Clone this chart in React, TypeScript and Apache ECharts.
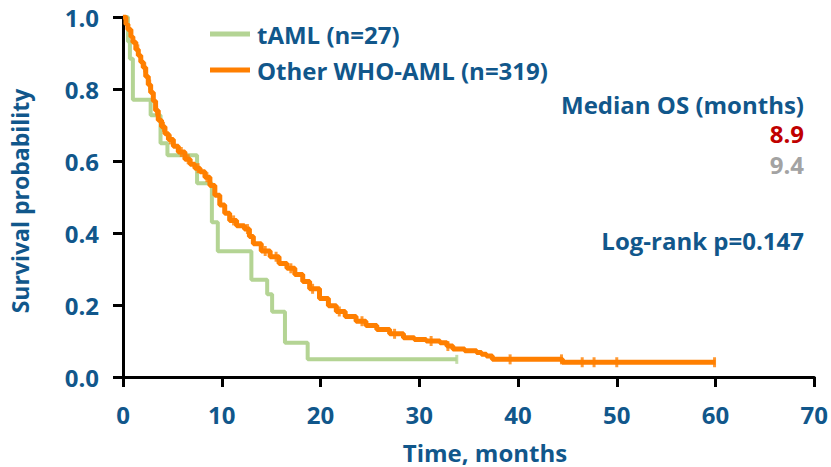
import React, { useEffect, useRef } from "react";
import * as echarts from "echarts";

// ---- Data ----
const xTickValues = [0, 10, 20, 30, 40, 50, 60, 70];
const yTickValues = [0, 0.2, 0.4, 0.6, 0.8, 1.0];

const seriesNames = ["tAML (n=27)", "Other WHO-AML (n=319)"];

// tAML Kaplan-Meier steps (time in months, survival after the drop)
const tamlTimes = [0, 0.5, 0.7, 1.0, 2.8, 3.8, 4.5, 7.5, 9.0, 9.6, 13.0, 14.6, 15.1, 16.4, 18.7, 33.8];
const tamlSurv = [1.0, 0.932, 0.884, 0.77, 0.727, 0.649, 0.616, 0.538, 0.43, 0.349, 0.27, 0.23, 0.181, 0.095, 0.049, 0.049];
const tamlCensorTimes = [33.8];

// Other WHO-AML Kaplan-Meier steps
const otherTimes = [
  0, 0.3, 0.5, 0.8, 1.0, 1.3, 1.55, 1.8, 2.05, 2.3, 2.56, 2.8, 3.07, 3.3, 3.57, 3.9, 4.25, 4.6, 5.1, 5.6,
  6.27, 6.8, 7.28, 7.8, 8.3, 8.8, 9.3, 9.8, 10.3, 10.8, 11.5, 12.3, 12.8, 13.2, 14.0, 14.9, 15.8, 16.6,
  17.4, 18.2, 18.9, 19.9, 20.8, 21.6, 22.5, 23.6, 24.6, 25.7, 27.0, 28.4, 29.5, 30.7, 32.1, 32.8, 33.4,
  34.6, 35.8, 36.3, 36.8, 37.4, 44.5, 60.0,
];
const otherSurv = [
  1.0, 0.98, 0.965, 0.945, 0.93, 0.91, 0.893, 0.875, 0.86, 0.835, 0.812, 0.79, 0.767, 0.74, 0.713, 0.695,
  0.676, 0.66, 0.641, 0.625, 0.605, 0.591, 0.58, 0.57, 0.555, 0.532, 0.505, 0.478, 0.455, 0.435, 0.42,
  0.411, 0.39, 0.37, 0.35, 0.334, 0.315, 0.302, 0.285, 0.265, 0.245, 0.218, 0.198, 0.182, 0.168, 0.155,
  0.143, 0.132, 0.12, 0.109, 0.104, 0.1, 0.095, 0.086, 0.078, 0.073, 0.068, 0.063, 0.058, 0.049, 0.041, 0.041,
];
const otherCensorTimes = [
  1.5, 2.2, 2.7, 3.4, 4.1, 4.8, 5.9, 6.6, 7.6, 8.5, 11.2, 12.6, 14.4, 15.5, 17.0, 19.2, 21.9, 24.2,
  27.5, 31.2, 32.9, 39.2, 44.4, 46.5, 47.7, 50.0, 59.9,
];

const annotationTitle = "Median OS (months)";
const medianValues = ["8.9", "9.4"];
const pValueText = "Log-rank p=0.147";
const xAxisTitle = "Time, months";
const yAxisTitle = "Survival probability";

// ---- Styling ----
const BLUE = "#11578b";
const GREEN = "#b4d494";
const ORANGE = "#ff7f00";
const FONT = "'Open Sans', Lato, sans-serif";

function survAt(times: number[], surv: number[], t: number): number {
  let v = surv[0];
  for (let i = 0; i < times.length; i++) {
    if (times[i] <= t) v = surv[i];
  }
  return v;
}

export default function App() {
  const ref = useRef<HTMLDivElement>(null);

  useEffect(() => {
    if (!ref.current) return;
    const chart = echarts.init(ref.current, undefined, { renderer: "svg" });

    const tamlData = tamlTimes.map((t, i) => [t, tamlSurv[i]]);
    const otherData = otherTimes.map((t, i) => [t, otherSurv[i]]);
    const tamlCensor = tamlCensorTimes.map((t) => [t, survAt(tamlTimes, tamlSurv, t)]);
    const otherCensor = otherCensorTimes.map((t) => [t, survAt(otherTimes, otherSurv, t)]);

    const labelStyle = {
      color: BLUE,
      fontFamily: FONT,
      fontWeight: "bold" as const,
      fontSize: 24,
      lineHeight: 24,
    };

    const txt = (text: string, x: number, y: number, fill: string, align: string, size = 24, rotation = 0) => ({
      type: "text",
      x,
      y,
      rotation,
      style: {
        text,
        fill,
        fontFamily: FONT,
        fontWeight: "bold",
        fontSize: size,
        lineHeight: size,
        align,
        verticalAlign: "middle",
      },
    });

    chart.setOption({
      animation: false,
      backgroundColor: "#ffffff",
      grid: { left: 123, right: 16, top: 7, bottom: 90, containLabel: false },
      legend: {
        orient: "vertical",
        left: 205,
        top: 17,
        itemWidth: 40,
        itemHeight: 5,
        itemGap: 12,
        icon: "rect",
        data: seriesNames,
        textStyle: { ...labelStyle, padding: [0, 0, 0, 2] },
      },
      xAxis: {
        type: "value",
        min: xTickValues[0],
        max: xTickValues[xTickValues.length - 1],
        interval: 10,
        splitLine: { show: false },
        axisLine: { show: true, onZero: false, lineStyle: { color: "#000", width: 3 } },
        axisTick: { show: true, length: 10, lineStyle: { color: "#000", width: 3 } },
        axisLabel: { ...labelStyle, margin: 25 },
      },
      yAxis: {
        type: "value",
        min: yTickValues[0],
        max: yTickValues[yTickValues.length - 1],
        interval: 0.2,
        splitLine: { show: false },
        axisLine: { show: true, onZero: false, lineStyle: { color: "#000", width: 3 } },
        axisTick: { show: true, length: 10, lineStyle: { color: "#000", width: 3 } },
        axisLabel: {
          ...labelStyle,
          margin: 24,
          padding: [10, 0, 0, 0],
          formatter: (v: number) => v.toFixed(1),
        },
      },
      series: [
        {
          name: seriesNames[0],
          type: "line",
          step: "end",
          data: tamlData,
          showSymbol: false,
          symbol: "none",
          color: GREEN,
          lineStyle: { color: GREEN, width: 4 },
          z: 2,
        },
        {
          name: seriesNames[0] + " censored",
          type: "scatter",
          data: tamlCensor,
          symbol: "rect",
          symbolSize: [3, 9],
          itemStyle: { color: GREEN },
          z: 2,
        },
        {
          name: seriesNames[1],
          type: "line",
          step: "end",
          data: otherData,
          showSymbol: false,
          symbol: "none",
          color: ORANGE,
          lineStyle: { color: ORANGE, width: 5 },
          z: 3,
        },
        {
          name: seriesNames[1] + " censored",
          type: "scatter",
          data: otherCensor,
          symbol: "rect",
          symbolSize: [3, 10],
          itemStyle: { color: ORANGE },
          z: 3,
        },
      ],
      graphic: [
        txt(xAxisTitle, 485, 452, BLUE, "center"),
        txt(yAxisTitle, 20, 201, BLUE, "center", 23, Math.PI / 2),
        txt(annotationTitle, 804, 104, BLUE, "right"),
        txt(medianValues[0], 804, 133, "#c00000", "right"),
        txt(medianValues[1], 804, 164, "#a3a3a3", "right"),
        txt(pValueText, 804, 240, BLUE, "right"),
      ],
    });

    return () => chart.dispose();
  }, []);

  return (
    <div
      ref={ref}
      style={{ position: "fixed", left: 0, top: 0, width: 831, height: 467, background: "#fff" }}
    />
  );
}
